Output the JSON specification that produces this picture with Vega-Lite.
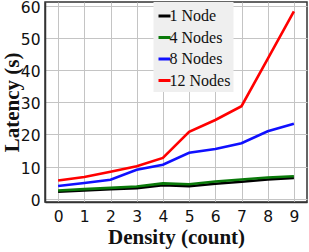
{
  "$schema": "https://vega.github.io/schema/vega-lite/v6.json",
  "width": 262,
  "height": 200,
  "autosize": {"type": "none"},
  "padding": {"left": 45, "top": 2, "right": 2, "bottom": 50},
  "background": "white",
  "config": {
    "view": {"stroke": "#333", "strokeWidth": 1.5},
    "axis": {
      "gridColor": "#c4c4c4",
      "gridWidth": 1,
      "domainColor": "#333",
      "domainWidth": 1.5,
      "ticks": false,
      "labelFont": "DejaVu Sans",
      "labelFontSize": 15.5,
      "labelColor": "#111",
      "titleFont": "Liberation Serif",
      "titleFontSize": 21,
      "titleFontWeight": "bold",
      "titleColor": "#111"
    },
    "legend": {
      "labelFont": "Liberation Serif, serif",
      "labelFontSize": 16,
      "labelColor": "#111"
    }
  },
  "data": {
    "values": [
      {"d": 0, "s": "1 Node", "v": 2.2}, {"d": 1, "s": "1 Node", "v": 2.6}, {"d": 2, "s": "1 Node", "v": 3.0}, {"d": 3, "s": "1 Node", "v": 3.3}, {"d": 4, "s": "1 Node", "v": 4.2}, {"d": 5, "s": "1 Node", "v": 3.9}, {"d": 6, "s": "1 Node", "v": 4.7}, {"d": 7, "s": "1 Node", "v": 5.3}, {"d": 8, "s": "1 Node", "v": 6.0}, {"d": 9, "s": "1 Node", "v": 6.5},
      {"d": 0, "s": "4 Nodes", "v": 2.6}, {"d": 1, "s": "4 Nodes", "v": 3.0}, {"d": 2, "s": "4 Nodes", "v": 3.4}, {"d": 3, "s": "4 Nodes", "v": 3.8}, {"d": 4, "s": "4 Nodes", "v": 4.8}, {"d": 5, "s": "4 Nodes", "v": 4.5}, {"d": 6, "s": "4 Nodes", "v": 5.4}, {"d": 7, "s": "4 Nodes", "v": 6.0}, {"d": 8, "s": "4 Nodes", "v": 6.6}, {"d": 9, "s": "4 Nodes", "v": 7.0},
      {"d": 0, "s": "8 Nodes", "v": 4.0}, {"d": 1, "s": "8 Nodes", "v": 4.9}, {"d": 2, "s": "8 Nodes", "v": 5.9}, {"d": 3, "s": "8 Nodes", "v": 9.0}, {"d": 4, "s": "8 Nodes", "v": 10.6}, {"d": 5, "s": "8 Nodes", "v": 14.3}, {"d": 6, "s": "8 Nodes", "v": 15.5}, {"d": 7, "s": "8 Nodes", "v": 17.3}, {"d": 8, "s": "8 Nodes", "v": 21.0}, {"d": 9, "s": "8 Nodes", "v": 23.3},
      {"d": 0, "s": "12 Nodes", "v": 5.7}, {"d": 1, "s": "12 Nodes", "v": 6.8}, {"d": 2, "s": "12 Nodes", "v": 8.4}, {"d": 3, "s": "12 Nodes", "v": 10.1}, {"d": 4, "s": "12 Nodes", "v": 12.7}, {"d": 5, "s": "12 Nodes", "v": 20.8}, {"d": 6, "s": "12 Nodes", "v": 24.5}, {"d": 7, "s": "12 Nodes", "v": 28.8}, {"d": 8, "s": "12 Nodes", "v": 43.5}, {"d": 9, "s": "12 Nodes", "v": 58.3}
    ]
  },
  "mark": {"type": "line", "strokeWidth": 2.6},
  "encoding": {
    "x": {
      "field": "d", "type": "quantitative",
      "scale": {"domain": [-0.5, 9.5], "nice": false, "zero": false},
      "axis": {"values": [0,1,2,3,4,5,6,7,8,9], "title": "Density (count)", "labelPadding": 7, "titlePadding": 2}
    },
    "y": {
      "field": "v", "type": "quantitative",
      "scale": {"domain": [-1, 61.2], "nice": false, "zero": false},
      "axis": {"values": [0,10,20,30,40,50,60], "title": "Latency (s)", "labelPadding": 5, "titlePadding": -2, "labelOffset": 1.5}
    },
    "color": {
      "field": "s", "type": "nominal",
      "scale": {"domain": ["1 Node", "4 Nodes", "8 Nodes", "12 Nodes"], "range": ["#000000", "#0a7a0a", "#1010ff", "#ff0000"]},
      "legend": {
        "title": " ",
        "titleFontSize": 1,
        "titlePadding": 2,
        "orient": "none",
        "legendX": 108.5,
        "legendY": 0,
        "fillColor": "#efefef",
        "padding": 3,
        "symbolType": "stroke",
        "symbolSize": 144,
        "symbolStrokeWidth": 3,
        "rowPadding": 5.5,
        "labelOffset": -3
      }
    },
    "order": {"field": "d"}
  }
}
